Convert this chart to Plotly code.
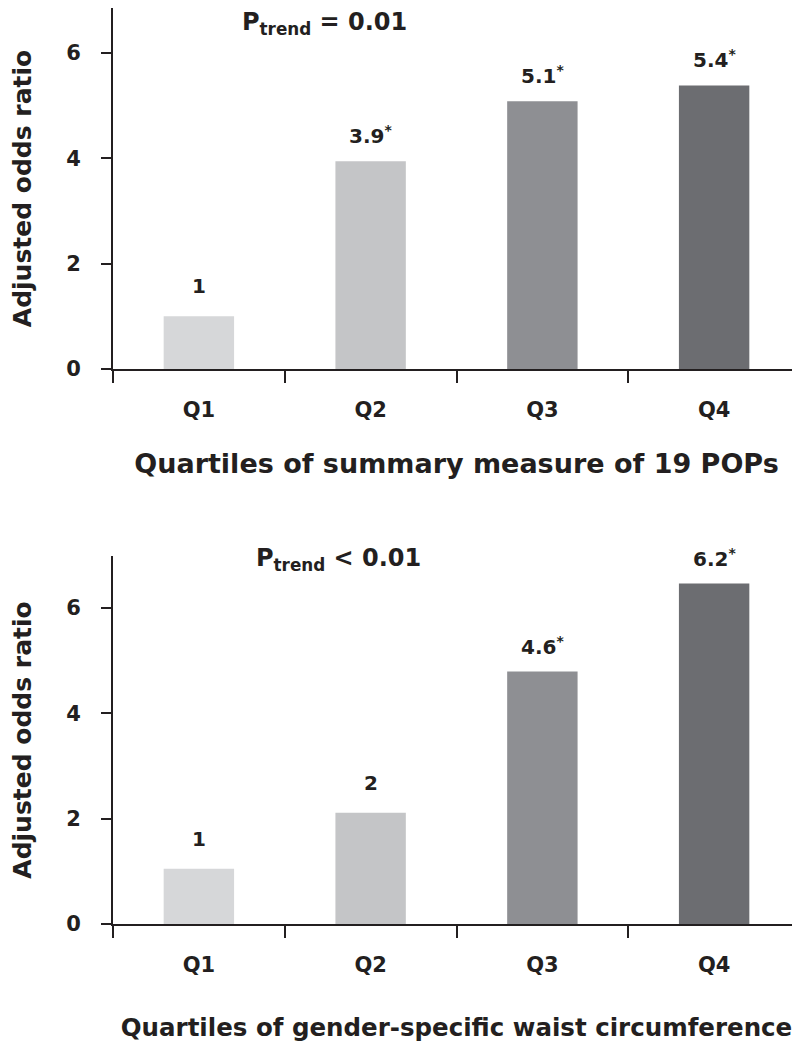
import plotly.graph_objects as go

categories = ["Q1", "Q2", "Q3", "Q4"]
top_values = [1.0, 3.94, 5.08, 5.38]
top_labels = ["1", "3.9<sup>*</sup>", "5.1<sup>*</sup>", "5.4<sup>*</sup>"]
bottom_values = [1.05, 2.11, 4.79, 6.46]
bottom_labels = ["1", "2", "4.6<sup>*</sup>", "6.2<sup>*</sup>"]
bar_colors = ["#d6d7d9", "#c4c5c7", "#8e8f93", "#6c6d71"]
y_ticks = [0, 2, 4, 6]
top_xtitle = "Quartiles of summary measure of 19 POPs"
bottom_xtitle = "Quartiles of gender-specific waist circumference"
ytitle = "Adjusted odds ratio"
top_ptrend = "P<sub>trend</sub> = 0.01"
bottom_ptrend = "P<sub>trend</sub> < 0.01"

OFF = 8  # page body margin offset
W, H = 800 - OFF, 1044 - OFF
TXT = "#231f20"
FONT = "DejaVu Sans"


def px_x(sx):
    return (sx - OFF) / W


def px_y(sy):
    return 1 - (sy - OFF) / H


fig = go.Figure()
fig.add_trace(go.Bar(x=categories, y=top_values, marker=dict(color=bar_colors, line=dict(width=0)),
                     width=0.41, xaxis="x", yaxis="y", showlegend=False, hoverinfo="skip"))
fig.add_trace(go.Bar(x=categories, y=bottom_values, marker=dict(color=bar_colors, line=dict(width=0)),
                     width=0.41, xaxis="x2", yaxis="y2", showlegend=False, hoverinfo="skip"))

xdom = [px_x(113), 1.0]
top_dom = [px_y(369), 1.0]
bot_dom = [px_y(924), px_y(556)]
unit = 52.7
top_max = (369 - OFF) / unit
bot_max = (924 - 556) / unit

axis_common = dict(showline=True, linecolor=TXT, linewidth=2, ticks="outside", tickcolor=TXT,
                   tickwidth=2, showgrid=False, zeroline=False, automargin=False,
                   tickfont=dict(family=FONT, size=21, color=TXT, weight="bold"))

xcommon = dict(axis_common, type="category", tickson="boundaries", ticklen=12,
               ticklabelstandoff=21, range=[-0.5, 3.5], domain=xdom)
ycommon = dict(axis_common, ticklen=10, tickvals=y_ticks, ticklabelstandoff=16)

fig.update_layout(
    width=W, height=H, margin=dict(l=0, r=0, t=0, b=0),
    plot_bgcolor="white", paper_bgcolor="white", bargap=0.5,
    xaxis=dict(xcommon, anchor="y",
               title=dict(text=top_xtitle, standoff=33,
                          font=dict(family=FONT, size=27, color=TXT, weight="bold"))),
    yaxis=dict(ycommon, anchor="x", domain=top_dom, range=[0, top_max],
               title=dict(text=ytitle, standoff=34,
                          font=dict(family=FONT, size=25, color=TXT, weight="bold"))),
    xaxis2=dict(xcommon, anchor="y2",
                title=dict(text=bottom_xtitle, standoff=43,
                           font=dict(family=FONT, size=24.5, color=TXT, weight="bold"))),
    yaxis2=dict(ycommon, anchor="x2", domain=bot_dom, range=[0, bot_max],
                title=dict(text=ytitle, standoff=34,
                           font=dict(family=FONT, size=25, color=TXT, weight="bold"))),
)

lab_font = dict(family=FONT, size=20, color=TXT, weight="bold")
for ax, vals, labs in (("", top_values, top_labels), ("2", bottom_values, bottom_labels)):
    for c, v, t in zip(categories, vals, labs):
        fig.add_annotation(x=c, y=v, text=t, xref="x" + ax, yref="y" + ax, showarrow=False,
                           yanchor="bottom", yshift=11 if "sup" in t else 16, font=lab_font)

p_font = dict(family=FONT, size=24, color=TXT, weight="bold")
fig.add_annotation(x=px_x(324), y=px_y(24), xref="paper", yref="paper", text=top_ptrend,
                   showarrow=False, font=p_font, xanchor="center", yanchor="middle", borderpad=0)
fig.add_annotation(x=px_x(338), y=px_y(559), xref="paper", yref="paper", text=bottom_ptrend,
                   showarrow=False, font=p_font, xanchor="center", yanchor="middle", borderpad=0)

fig.write_html("out.html")
